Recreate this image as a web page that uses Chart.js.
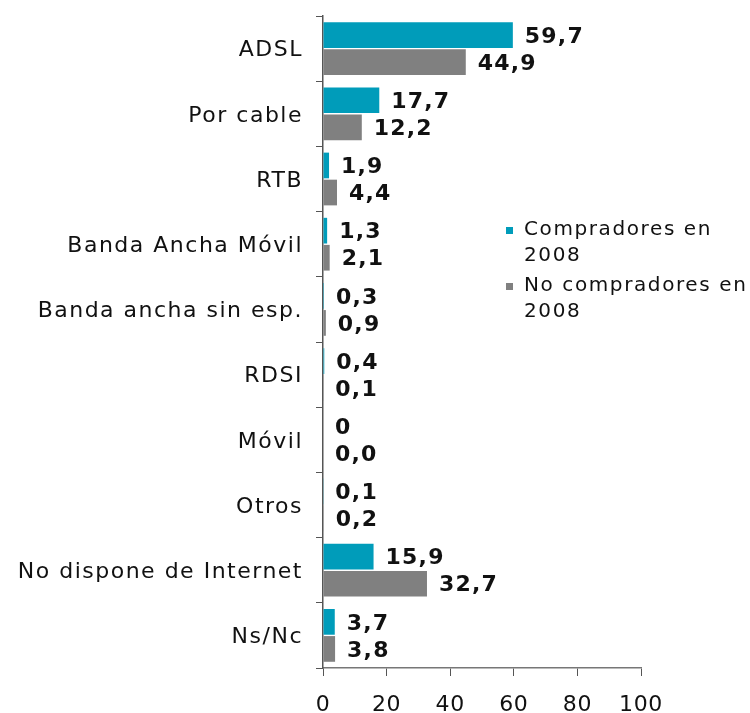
<!DOCTYPE html>
<html>
<head>
<meta charset="utf-8">
<script src="https://cdn.jsdelivr.net/npm/chart.js@4"></script>
<style>
  html, body { margin: 0; padding: 0; background: #fff; }
  #wrap { width: 750px; height: 713px; }
</style>
</head>
<body>
<div id="wrap"><canvas id="chart" width="750" height="713"></canvas></div>
<script>
// data
const categories = ['ADSL', 'Por cable', 'RTB', 'Banda Ancha Móvil', 'Banda ancha sin esp.',
  'RDSI', 'Móvil', 'Otros', 'No dispone de Internet', 'Ns/Nc'];
const compradores = [59.7, 17.7, 1.9, 1.3, 0.3, 0.4, 0, 0.1, 15.9, 3.7];
const noCompradores = [44.9, 12.2, 4.4, 2.1, 0.9, 0.1, 0.0, 0.2, 32.7, 3.8];
const seriesNames = [['Compradores en', '2008'], ['No compradores en', '2008']];
const xTicks = [0, 20, 40, 60, 80, 100];

const TEAL = '#009cba';
const GRAY = '#808080';
const FONT = '"DejaVu Sans", Verdana, sans-serif';

// wider spacing for category labels (Verdana look); x tick labels drawn later with less
const spacing = {
  id: 'spacing',
  beforeDraw(chart) { chart.ctx.letterSpacing = '1.5px'; },
  afterDatasetsDraw(chart) { chart.ctx.letterSpacing = '0.6px'; }
};

// value labels next to each bar
const valueLabels = {
  id: 'valueLabels',
  afterDatasetsDraw(chart) {
    const ctx = chart.ctx;
    ctx.save();
    ctx.font = 'bold 22px ' + FONT;
    ctx.letterSpacing = '1.2px';
    ctx.fillStyle = '#111';
    ctx.textBaseline = 'middle';
    ctx.textAlign = 'left';
    chart.data.datasets.forEach((ds, di) => {
      const meta = chart.getDatasetMeta(di);
      meta.data.forEach((bar, i) => {
        const v = ds.data[i];
        // first series shows a bare 0 for Móvil
        const txt = (di === 0 && v === 0) ? '0' : v.toFixed(1).replace('.', ',');
        ctx.fillText(txt, bar.x + 12, bar.y + 2);
      });
    });
    ctx.restore();
  }
};

// legend drawn at the right side, two-line labels
const sideLegend = {
  id: 'sideLegend',
  afterDraw(chart) {
    const ctx = chart.ctx;
    ctx.save();
    ctx.font = '20px ' + FONT;
    ctx.letterSpacing = '1.6px';
    ctx.textBaseline = 'middle';
    const x0 = 506, y0 = 230, lineH = 26, groupGap = 56;
    chart.data.datasets.forEach((ds, di) => {
      const y = y0 + di * groupGap;
      ctx.fillStyle = ds.backgroundColor;
      ctx.fillRect(x0, y - 3, 7, 7);
      ctx.fillStyle = '#111';
      seriesNames[di].forEach((line, li) => {
        ctx.fillText(line, x0 + 18, y + li * lineH);
      });
    });
    ctx.restore();
  }
};

new Chart(document.getElementById('chart'), {
  type: 'bar',
  data: {
    labels: categories,
    datasets: [
      { label: seriesNames[0].join(' '), data: compradores, backgroundColor: TEAL },
      { label: seriesNames[1].join(' '), data: noCompradores, backgroundColor: GRAY }
    ]
  },
  options: {
    indexAxis: 'y',
    responsive: false,
    animation: false,
    categoryPercentage: 0.83,
    barPercentage: 0.95,
    layout: { padding: { top: 16, right: 109, left: 0, bottom: 0 } },
    scales: {
      x: {
        min: 0, max: 100,
        position: 'bottom',
        afterBuildTicks: s => { s.ticks = xTicks.map(v => ({ value: v })); },
        afterFit: s => { s.height = 45; s.paddingLeft = 0; s.paddingRight = 0; },
        grid: { drawOnChartArea: false, drawTicks: true, tickLength: 8, color: '#555' },
        border: { color: '#777', width: 1.5 },
        ticks: { z: 1, color: '#111', font: { family: FONT, size: 22 }, padding: 16 }
      },
      y: {
        afterFit: s => { s.width = 323; s.paddingTop = 0; s.paddingBottom = 0; },
        grid: { drawOnChartArea: false, drawTicks: true, tickLength: 7, color: '#555', offset: true },
        border: { color: '#555', width: 1.5 },
        ticks: { color: '#111', font: { family: FONT, size: 22 }, padding: 13, labelOffset: 2 }
      }
    },
    plugins: {
      legend: { display: false },
      tooltip: { enabled: false }
    }
  },
  plugins: [spacing, valueLabels, sideLegend]
});
</script>
</body>
</html>
